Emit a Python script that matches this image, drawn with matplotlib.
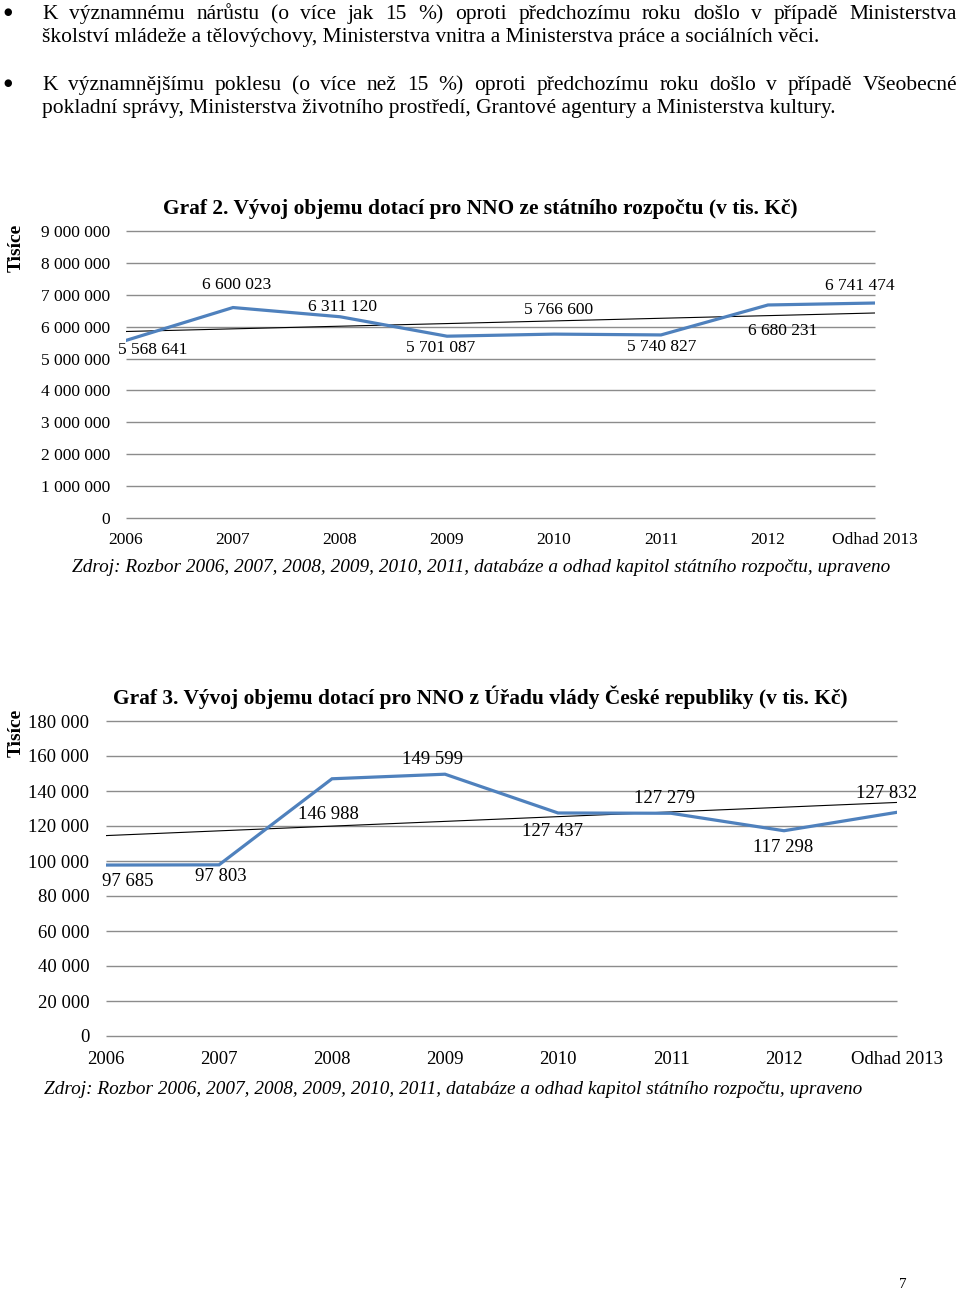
import numpy as np
import matplotlib.pyplot as plt

# data
years = ['2006', '2007', '2008', '2009', '2010', '2011', '2012', 'Odhad 2013']
state_budget = [5568641, 6600023, 6311120, 5701087, 5766600, 5740827, 6680231, 6741474]
govt_office = [97685, 97803, 146988, 149599, 127437, 127279, 117298, 127832]
budget_ticks = list(range(0, 9000001, 1000000))
office_ticks = list(range(0, 180001, 20000))

# label offsets in pixels (dx right, dy up)
budget_offsets = [(27, -10), (4, 23), (3, 10), (-6, -12), (5, 24), (1, -12), (15, -26), (-15, 17)]
office_offsets = [(22, -16), (2, -12), (-4, -36), (-12, 15), (-5, -19), (-6, 15), (-1, -17), (-10, 19)]

para1 = ["K významnému nárůstu (o více jak 15 %) oproti předchozímu roku došlo v případě Ministerstva",
         "školství mládeže a tělovýchovy, Ministerstva vnitra a Ministerstva práce a sociálních věci."]
para2 = ["K významnějšímu poklesu (o více než 15 %) oproti předchozímu roku došlo v případě Všeobecné",
         "pokladní správy, Ministerstva životního prostředí, Grantové agentury a Ministerstva kultury."]
source = "Zdroj: Rozbor 2006, 2007, 2008, 2009, 2010, 2011, databáze a odhad kapitol státního rozpočtu, upraveno"

plt.rcParams['font.family'] = ['Liberation Serif', 'DejaVu Serif']

W, H = 960, 1291
fig = plt.figure(figsize=(W / 100, H / 100), dpi=100)
renderer = fig.canvas.get_renderer()


def fx(x):
    return x / W


def fy(y):
    return 1 - y / H


def fmt(v):
    return f"{v:,}".replace(',', ' ')


def justified(line, y, x0, x1, size):
    words = line.split()
    texts = [fig.text(0, fy(y), w, fontsize=size, va='baseline') for w in words]
    widths = [t.get_window_extent(renderer).width for t in texts]
    gap = (x1 - x0 - sum(widths)) / (len(words) - 1)
    x = x0
    for t, w in zip(texts, widths):
        t.set_x(fx(x))
        x += w + gap


# body text
body_size = 15.5
fig.text(fx(8), fy(12), '●', fontsize=7, ha='center', va='center', family='DejaVu Sans')
justified(para1[0], 19, 42, 957, body_size)
fig.text(fx(42), fy(42), para1[1], fontsize=body_size, va='baseline')
fig.text(fx(8), fy(83), '●', fontsize=7, ha='center', va='center', family='DejaVu Sans')
justified(para2[0], 90, 42, 957, body_size)
fig.text(fx(42), fy(113), para2[1], fontsize=body_size, va='baseline')


def line_chart(box, values, ticks, offsets, title, title_xy, tisice_xy, source_xy,
               tick_size, ypad, xpad, label_size):
    left, top, right, bottom = box
    ax = fig.add_axes([fx(left), fy(bottom), (right - left) / W, (bottom - top) / H])
    x = np.arange(len(values))
    ax.hlines(ticks, 0, len(values) - 1, color='#8c8c8c', lw=1, clip_on=False, zorder=0)
    ax.plot(x, values, color='#4f81bd', lw=2.3, solid_joinstyle='miter', zorder=3)
    k, b = np.polyfit(x, values, 1)
    ax.plot(x, k * x + b, color='black', lw=0.8, zorder=2)
    ax.set_xlim(0, len(values) - 1)
    ax.set_ylim(0, ticks[-1])
    ax.set_xticks(x)
    ax.set_xticklabels(years)
    ax.set_yticks(ticks)
    ax.set_yticklabels([fmt(t) for t in ticks])
    ax.tick_params(axis='y', length=0, pad=ypad, labelsize=tick_size)
    ax.tick_params(axis='x', length=0, pad=xpad, labelsize=tick_size)
    for s in ax.spines.values():
        s.set_visible(False)
    ax.patch.set_visible(False)
    for i, v in enumerate(values):
        dx, dy = offsets[i]
        ax.annotate(fmt(v), (i, v), xytext=(dx * 0.72, dy * 0.72), textcoords='offset points',
                    ha='center', va='center', fontsize=label_size)
    fig.text(fx(title_xy[0]), fy(title_xy[1]), title, fontsize=15.4, fontweight='bold',
             ha='center', va='center')
    fig.text(fx(tisice_xy[0]), fy(tisice_xy[1]), 'Tisíce', fontsize=14, fontweight='bold',
             rotation=90, ha='center', va='center')
    fig.text(fx(source_xy[0]), fy(source_xy[1]), source, fontsize=13.9, style='italic',
             ha='center', va='center')
    return ax


line_chart((126, 231, 875, 518), state_budget, budget_ticks, budget_offsets,
           'Graf 2. Vývoj objemu dotací pro NNO ze státního rozpočtu (v tis. Kč)',
           (480, 209), (16, 248), (481, 568), 12.5, 11.5, 10, 12.5)

line_chart((106, 721, 897, 1036), govt_office, office_ticks, office_offsets,
           'Graf 3. Vývoj objemu dotací pro NNO z Úřadu vlády České republiky (v tis. Kč)',
           (480, 697), (16, 733), (453, 1090), 13.5, 12, 11, 13.5)

fig.text(fx(903), fy(1285), '7', fontsize=11, ha='center', va='center')

fig.savefig('out.png', dpi=100)
